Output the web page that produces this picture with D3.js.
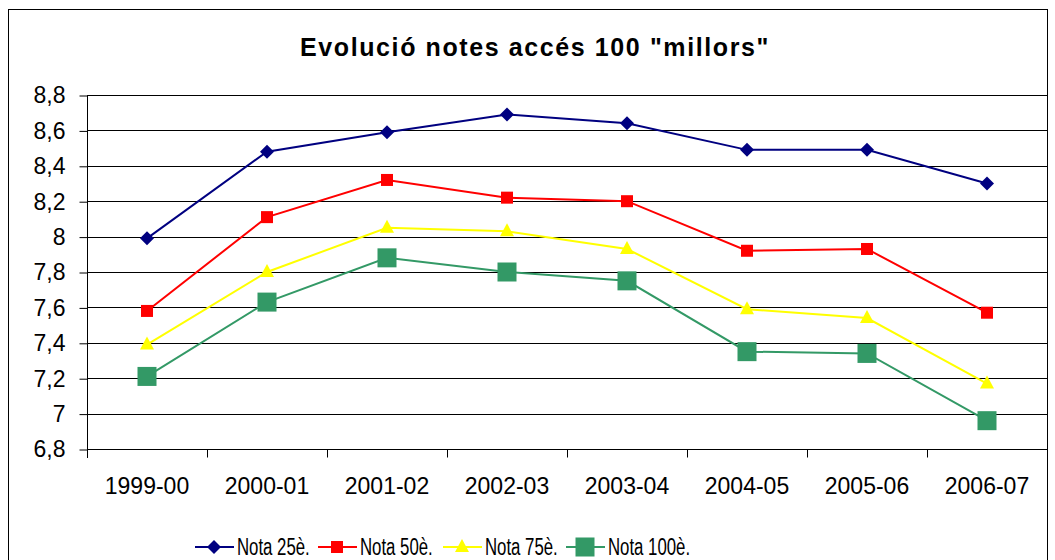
<!DOCTYPE html>
<meta charset="utf-8">
<style>
    body { margin: 0; background: #fff; }
    text { font-family: "Liberation Sans", Arial, sans-serif; fill: #000; }
</style>
<svg id="svg" width="1055" height="560"></svg>
<script src="https://d3js.org/d3.v7.min.js"></script>
<script>

    // data
    var years = ["1999-00", "2000-01", "2001-02", "2002-03", "2003-04", "2004-05", "2005-06", "2006-07"];
    var nota25 = [7.99, 8.48, 8.59, 8.69, 8.64, 8.49, 8.49, 8.30];
    var nota50 = [7.58, 8.11, 8.32, 8.22, 8.20, 7.92, 7.93, 7.57];
    var nota75 = [7.39, 7.80, 8.05, 8.03, 7.93, 7.59, 7.54, 7.17];
    var nota100 = [7.21, 7.63, 7.88, 7.80, 7.75, 7.35, 7.34, 6.96];
    var yTicks = [6.8, 7, 7.2, 7.4, 7.6, 7.8, 8, 8.2, 8.4, 8.6, 8.8];

    var series = [
        {name: "Nota 25è.", values: nota25, color: "#000080", shape: "diamond"},
        {name: "Nota 50è.", values: nota50, color: "#ff0000", shape: "square"},
        {name: "Nota 75è.", values: nota75, color: "#ffff00", shape: "triangle"},
        {name: "Nota 100è.", values: nota100, color: "#339966", shape: "bigsquare"}
    ];

    var svg = d3.select("svg");

    // chart frame
    svg.append("rect")
        .attr("x", 8.5).attr("y", 9.5)
        .attr("width", 1039).attr("height", 560)
        .attr("fill", "none").attr("stroke", "#000").attr("stroke-width", 1);

    svg.append("text")
        .attr("x", 535).attr("y", 56)
        .attr("text-anchor", "middle")
        .attr("font-size", "25px").attr("font-weight", "bold")
        .attr("letter-spacing", "1.6px")
        .text('Evolució notes accés 100 "millors"');

    var x = d3.scaleBand().domain(years).range([87, 1047]);
    var y = d3.scaleLinear().domain([6.8, 8.8]).range([449, 95]);

    // gridlines
    svg.append("g").selectAll("line")
        .data(yTicks)
        .enter().append("line")
        .attr("x1", 87).attr("x2", 1047)
        .attr("y1", function (d) { return Math.round(y(d)) + 0.5; })
        .attr("y2", function (d) { return Math.round(y(d)) + 0.5; })
        .attr("stroke", "#000").attr("stroke-width", 1);

    // y axis
    var yAxis = svg.append("g")
        .attr("transform", "translate(87.5,0.5)")
        .call(d3.axisLeft(y).tickValues(yTicks).tickSize(8).tickPadding(14)
            .tickFormat(function (d) { return String(d).replace(".", ","); }));
    yAxis.select(".domain").remove();
    yAxis.selectAll(".tick line").attr("stroke", "#000");
    yAxis.selectAll(".tick text").attr("font-size", "23px").attr("font-family", "Liberation Sans, Arial, sans-serif");
    svg.append("line")
        .attr("x1", 87.5).attr("x2", 87.5).attr("y1", 95).attr("y2", 458)
        .attr("stroke", "#000");

    // x axis: ticks at category boundaries
    var xAxis = svg.append("g").attr("transform", "translate(0,449.5)");
    xAxis.selectAll("line")
        .data(years.concat(["end"]))
        .enter().append("line")
        .attr("x1", function (d, i) { return Math.round(87 + i * x.step()) + 0.5; })
        .attr("x2", function (d, i) { return Math.round(87 + i * x.step()) + 0.5; })
        .attr("y1", 0).attr("y2", 8)
        .attr("stroke", "#000");
    xAxis.selectAll("text")
        .data(years)
        .enter().append("text")
        .attr("x", function (d) { return x(d) + x.bandwidth() / 2; })
        .attr("y", 44)
        .attr("text-anchor", "middle")
        .attr("font-size", "23px")
        .text(function (d) { return d; });

    function marker(sel, shape, color) {
        if (shape === "diamond") {
            sel.append("path").attr("d", "M0,-7L7,0L0,7L-7,0Z").attr("fill", color);
        } else if (shape === "square") {
            sel.append("rect").attr("x", -6).attr("y", -6).attr("width", 12).attr("height", 12).attr("fill", color);
        } else if (shape === "triangle") {
            sel.append("path").attr("d", "M0,-8L7,5L-7,5Z").attr("fill", color);
        } else {
            sel.append("rect").attr("x", -9.5).attr("y", -9.5).attr("width", 19).attr("height", 19).attr("fill", color);
        }
    }

    var line = d3.line()
        .x(function (d, i) { return x(years[i]) + x.bandwidth() / 2; })
        .y(function (d) { return y(d); });

    series.forEach(function (s) {
        svg.append("path")
            .datum(s.values)
            .attr("d", line)
            .attr("fill", "none")
            .attr("stroke", s.color)
            .attr("stroke-width", 2);
        svg.append("g").selectAll("g")
            .data(s.values)
            .enter().append("g")
            .attr("transform", function (d, i) {
                return "translate(" + (x(years[i]) + x.bandwidth() / 2) + "," + y(d) + ")";
            })
            .each(function () { marker(d3.select(this), s.shape, s.color); });
    });

    // legend (text is narrow in the original)
    var legendX = [195, 318, 443, 566];
    var legend = svg.append("g").selectAll("g")
        .data(series)
        .enter().append("g")
        .attr("transform", function (d, i) { return "translate(" + legendX[i] + ",547)"; });
    legend.append("line")
        .attr("x1", 0).attr("x2", 39).attr("y1", 0).attr("y2", 0)
        .attr("stroke", function (d) { return d.color; }).attr("stroke-width", 2);
    legend.append("g")
        .attr("transform", "translate(19,0)")
        .each(function (d) { marker(d3.select(this), d.shape, d.color); });
    legend.append("text")
        .attr("transform", "translate(42,8) scale(0.73,1)")
        .attr("font-size", "23px")
        .text(function (d) { return d.name; });

</script>
